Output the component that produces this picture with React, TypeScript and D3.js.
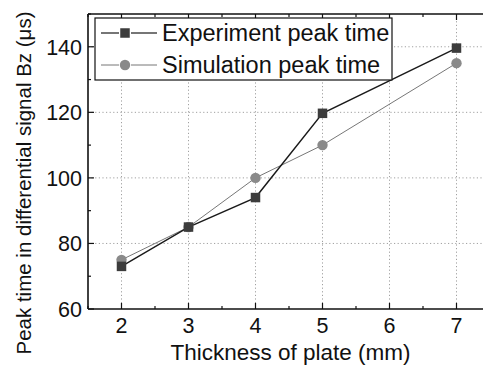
import React from "react";
import * as d3 from "d3";

// Plate thickness (mm) and measured / simulated peak times (µs)
const expThickness = [2, 3, 4, 5, 7];
const expPeak = [73, 85, 94, 119.7, 139.6];
const simThickness = [2, 3, 4, 5, 7];
const simPeak = [75, 85, 100, 110, 135];

const xTicks = [2, 3, 4, 5, 6, 7];
const xMinorTicks = [1.5, 2.5, 3.5, 4.5, 5.5, 6.5];
const yTicks = [60, 80, 100, 120, 140];
const yMinorTicks = [70, 90, 110, 130, 150];

const W = 483;
const H = 367;
const left = 88;
const top = 14;
const bottom = 309;
const right = 490;

const font = "'Liberation Sans', Arial, sans-serif";

export default function App() {
  const x = d3.scaleLinear().domain([1.5, 7.5]).range([left, right]);
  const y = d3.scaleLinear().domain([60, 150]).range([bottom, top]);

  const path = d3
    .line<[number, number]>()
    .x((d) => x(d[0]))
    .y((d) => y(d[1]));
  const expLine = path(expThickness.map((t, i) => [t, expPeak[i]]));
  const simLine = path(simThickness.map((t, i) => [t, simPeak[i]]));

  const sq = 9.5;
  const expColor = "#3c3c3c";
  const simColor = "#8a8a8a";

  return (
    <svg
      width={W}
      height={H}
      style={{ position: "absolute", left: 0, top: 0, background: "#fff" }}
    >
      <defs>
        <clipPath id="plot">
          <rect x={left} y={top - 6} width={right - left} height={bottom - top + 6} />
        </clipPath>
      </defs>

      {/* dotted grid */}
      <g stroke="#a0a0a0" strokeWidth={1} strokeDasharray="1.2,2.4">
        {xTicks.map((t) => (
          <line key={"gx" + t} x1={x(t)} x2={x(t)} y1={top} y2={bottom} />
        ))}
        {yTicks.slice(1).map((t) => (
          <line key={"gy" + t} x1={left} x2={right} y1={y(t)} y2={y(t)} />
        ))}
      </g>

      {/* series */}
      <g clipPath="url(#plot)">
        <path d={simLine || ""} fill="none" stroke="#777" strokeWidth={1} />
        <path d={expLine || ""} fill="none" stroke="#1a1a1a" strokeWidth={1.4} />
        {simThickness.map((t, i) => (
          <circle
            key={"s" + t}
            cx={x(t)}
            cy={y(simPeak[i])}
            r={5.2}
            fill={simColor}
          />
        ))}
        {expThickness.map((t, i) => (
          <rect
            key={"e" + t}
            x={x(t) - sq / 2}
            y={y(expPeak[i]) - sq / 2}
            width={sq}
            height={sq}
            fill={expColor}
          />
        ))}
      </g>

      {/* frame */}
      <g stroke="#111" strokeWidth={1.6} fill="none">
        <line x1={left} x2={left} y1={top} y2={bottom} />
        <line x1={left} x2={right} y1={bottom} y2={bottom} />
        <line x1={left} x2={right} y1={top} y2={top} />
      </g>

      {/* inward ticks */}
      <g stroke="#111" strokeWidth={1.2}>
        {xTicks.map((t) => (
          <g key={"xt" + t}>
            <line x1={x(t)} x2={x(t)} y1={bottom} y2={bottom - 6} />
            <line x1={x(t)} x2={x(t)} y1={top} y2={top + 6} />
          </g>
        ))}
        {xMinorTicks.map((t) => (
          <g key={"xm" + t}>
            <line x1={x(t)} x2={x(t)} y1={bottom} y2={bottom - 3} />
            <line x1={x(t)} x2={x(t)} y1={top} y2={top + 3} />
          </g>
        ))}
        {yTicks.map((t) => (
          <line key={"yt" + t} x1={left} x2={left + 6} y1={y(t)} y2={y(t)} />
        ))}
        {yMinorTicks.map((t) => (
          <line key={"ym" + t} x1={left} x2={left + 3} y1={y(t)} y2={y(t)} />
        ))}
      </g>

      {/* tick labels */}
      <g fontFamily={font} fontSize={21.5} fill="#111">
        {xTicks.map((t) => (
          <text key={"xl" + t} x={x(t)} y={333} textAnchor="middle">
            {t}
          </text>
        ))}
        {yTicks.map((t) => (
          <text
            key={"yl" + t}
            x={82}
            y={y(t)}
            dy="0.36em"
            textAnchor="end"
          >
            {t}
          </text>
        ))}
      </g>

      {/* axis titles */}
      <text
        x={(168 + 413) / 2}
        y={360}
        textAnchor="middle"
        fontFamily={font}
        fontSize={22.5}
        fill="#111"
      >
        Thickness of plate (mm)
      </text>
      <text
        transform={`translate(31, 183) rotate(-90)`}
        textAnchor="middle"
        fontFamily={font}
        fontSize={20.5}
        fill="#111"
      >
        Peak time in differential signal Bz (μs)
      </text>

      {/* legend */}
      <g>
        <rect
          x={95}
          y={18}
          width={297}
          height={62}
          fill="#fff"
          stroke="#111"
          strokeWidth={1.2}
        />
        <g>
          <line x1={101} x2={119} y1={33} y2={33} stroke="#1a1a1a" strokeWidth={1.2} />
          <line x1={131} x2={157} y1={33} y2={33} stroke="#1a1a1a" strokeWidth={1.2} />
          <rect x={125 - sq / 2} y={33 - sq / 2} width={sq} height={sq} fill={expColor} />
          <text x={162} y={33} dy="0.36em" fontFamily={font} fontSize={23.5} fill="#111">
            Experiment peak time
          </text>
        </g>
        <g>
          <line x1={101} x2={119} y1={65} y2={65} stroke="#777" strokeWidth={1} />
          <line x1={131} x2={157} y1={65} y2={65} stroke="#777" strokeWidth={1} />
          <circle cx={125} cy={65} r={5.2} fill={simColor} />
          <text x={162} y={65} dy="0.36em" fontFamily={font} fontSize={23.5} fill="#111">
            Simulation peak time
          </text>
        </g>
      </g>
    </svg>
  );
}
